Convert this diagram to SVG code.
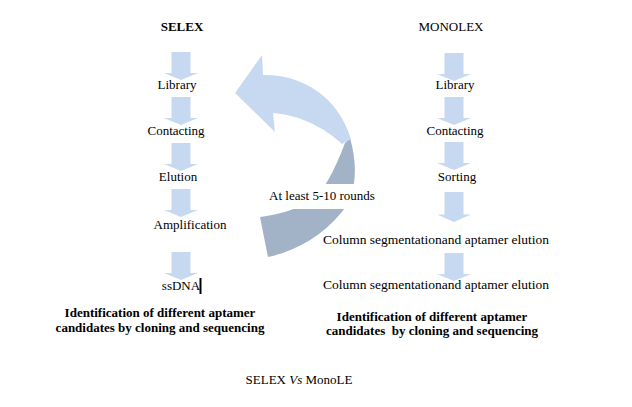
<svg xmlns="http://www.w3.org/2000/svg" width="632" height="407" viewBox="0 0 632 407">
<style>
text{font-family:"Liberation Serif","Times New Roman",serif;font-size:13px;fill:#000;text-anchor:middle}
.b{font-weight:bold}
.w{font-size:13.5px}
.blk{fill:#c6d9f1}
</style>
<defs>
<path id="dn" d="M-9.5,0 H9.5 V21 H17 L0,28 L-17,21 H-9.5 Z"/>
</defs>
<rect width="632" height="407" fill="#fff"/>
<g id="connectors">
<path id="cycle-back" d="M350,138 C358,165 357,195 341,213 C322,236 296,251 268,257 L260,217 C289,213 313,205 327,182 C334,170 340,156 345,143 Z" fill="#a2b3c7"/>
<path id="cycle-front" d="M235,93 L262,55 L263,75 C301,74 338,96 351,139 L342,144 C325,128 300,115 273,113 L275,132 Z" fill="#c6d9f1"/>
<use href="#dn" class="blk" transform="translate(181,52)"/>
<use href="#dn" class="blk" transform="translate(181,97)"/>
<use href="#dn" class="blk" transform="translate(181,143)"/>
<use href="#dn" class="blk" transform="translate(181,189)"/>
<use href="#dn" class="blk" transform="translate(181,252)"/>
<use href="#dn" class="blk" transform="translate(454,53)"/>
<use href="#dn" class="blk" transform="translate(454,97)"/>
<use href="#dn" class="blk" transform="translate(454,142)"/>
<use href="#dn" class="blk" transform="translate(454,192) scale(1,1.07)"/>
<use href="#dn" class="blk" transform="translate(454,253)"/>
</g>
<g id="selex-title"><text x="182" y="31" class="b">SELEX</text></g>
<g id="monolex-title"><text x="451" y="31">MONOLEX</text></g>
<g id="s-library"><text x="177" y="89">Library</text></g>
<g id="s-contacting"><text x="176" y="135">Contacting</text></g>
<g id="s-elution"><text x="178" y="181">Elution</text></g>
<g id="s-amplification"><text x="190" y="229">Amplification</text></g>
<g id="s-ssdna"><text x="181" y="290">ssDNA</text><rect x="199.5" y="278" width="2" height="16" fill="#000"/></g>
<g id="s-ident"><text x="160" y="317" class="b">Identification of different aptamer</text><text x="160" y="332" class="b">candidates by cloning and sequencing</text></g>
<g id="m-library"><text x="455" y="89">Library</text></g>
<g id="m-contacting"><text x="455" y="135">Contacting</text></g>
<g id="m-sorting"><text x="457" y="181">Sorting</text></g>
<g id="m-column1"><text x="436" y="244" class="w">Column segmentationand aptamer elution</text></g>
<g id="m-column2"><text x="436" y="289" class="w">Column segmentationand aptamer elution</text></g>
<g id="m-ident"><text x="432" y="321" class="b">Identification of different aptamer</text><text x="432" y="335" class="b" xml:space="preserve">candidates  by cloning and sequencing</text></g>
<g id="rounds"><rect x="263" y="184" width="117" height="25" fill="#fff"/><text x="322" y="200">At least 5-10 rounds</text></g>
<g id="caption"><text x="299" y="384">SELEX <tspan font-style="italic">Vs</tspan> MonoLE</text></g>
</svg>
